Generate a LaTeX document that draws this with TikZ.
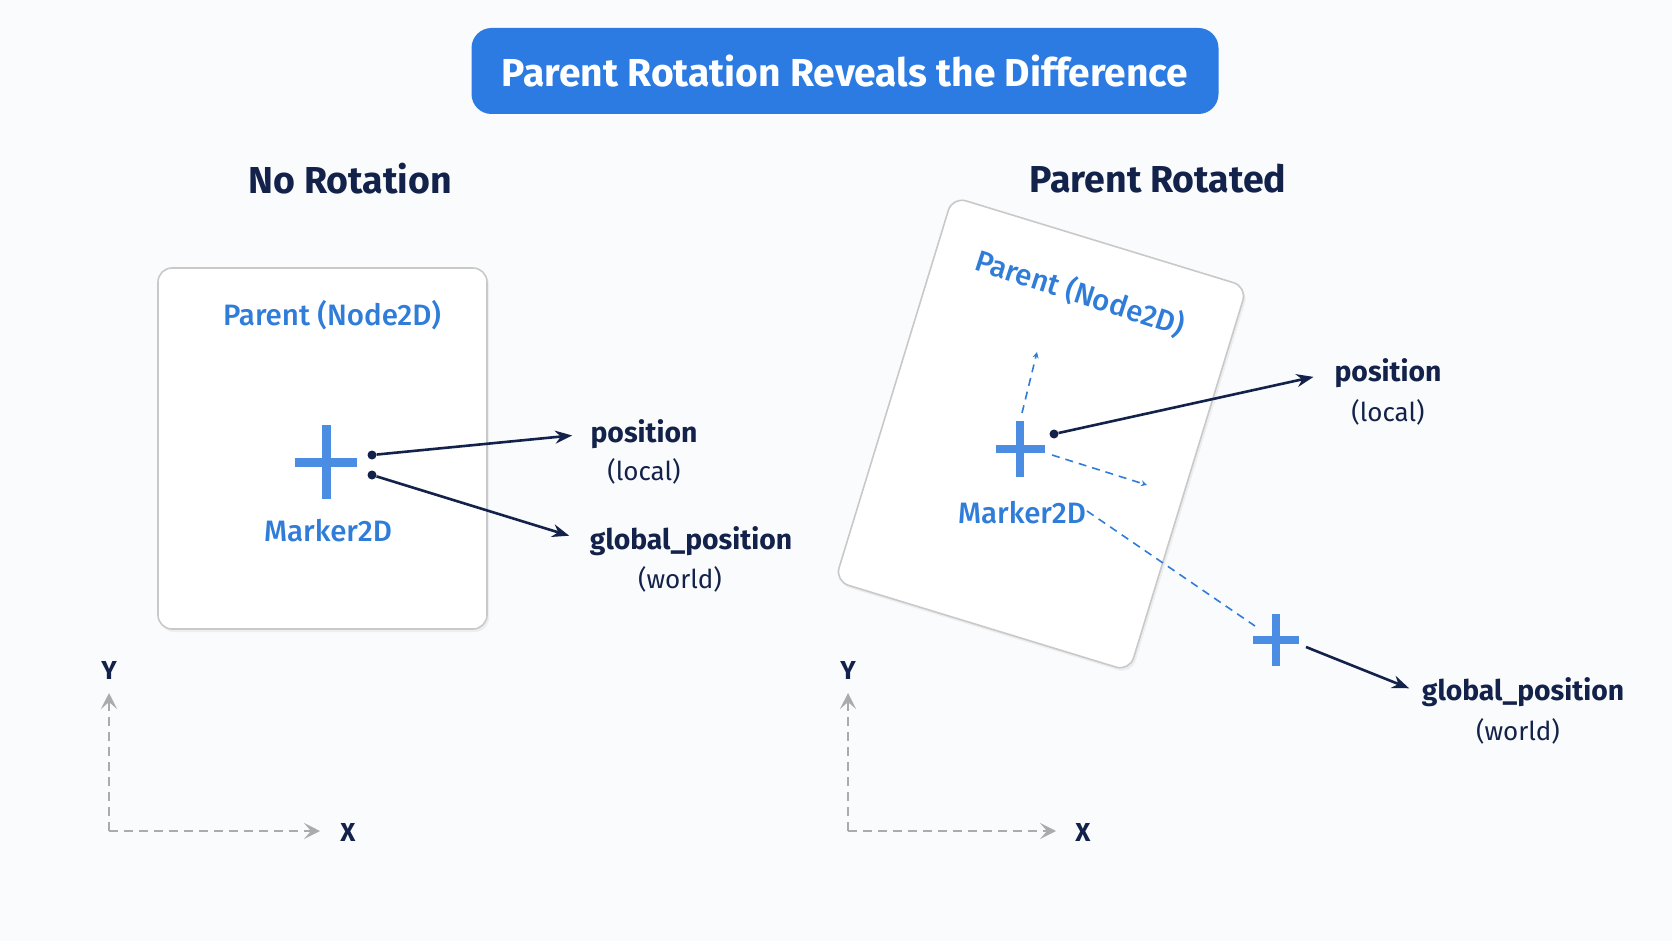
\documentclass[tikz,border=0pt]{standalone}
\usepackage{fontspec}
\setmainfont{Fira Sans}
\newfontfamily\medfont{Fira Sans Medium}
\usetikzlibrary{arrows.meta,shadows}
\definecolor{navy}{HTML}{13224A}
\definecolor{tblue}{HTML}{2B7BE3}
\definecolor{lblue}{HTML}{2F7DD9}
\definecolor{pblue}{HTML}{4A8DE2}
\definecolor{axgray}{HTML}{ABABAB}
\definecolor{bordergray}{HTML}{C9C9C9}
\definecolor{bg}{HTML}{FAFBFC}
\begin{document}
\begin{tikzpicture}[x=1pt,y=-1pt,
  panel/.style={draw=bordergray, line width=1.6pt, fill=white, rounded corners=14pt,
    drop shadow={opacity=0.10, shadow xshift=2pt, shadow yshift=-3pt}},
  titlebox/.style={fill=tblue, rounded corners=20pt, minimum width=747pt, minimum height=86pt,
    text=white, font=\bfseries\fontsize{39}{42}\selectfont},
  heading/.style={text=navy, font=\bfseries\fontsize{37.5}{40}\selectfont},
  blab/.style={text=lblue, font=\medfont\fontsize{29.5}{32}\selectfont},
  nlab/.style={text=navy, font=\bfseries\fontsize{28.3}{32}\selectfont},
  slab/.style={text=navy, font=\fontsize{26}{30}\selectfont},
  axlab/.style={text=navy, font=\bfseries\fontsize{26}{30}\selectfont},
  dot/.style={circle, fill=navy, inner sep=0pt, minimum size=9pt},
  navarrow/.style={draw=navy, line width=2.6pt, -{Stealth[length=17pt,width=13pt]}},
  axis/.style={draw=axgray, line width=2.4pt, dash pattern=on 9pt off 6pt,
    -{Stealth[length=16pt,width=16pt,inset=7pt]}},
  bdash/.style={draw=lblue, line width=1.6pt, dash pattern=on 8pt off 6pt},
  pics/plusmark/.style n args={3}{code={
    \fill[pblue] (-#1,-#3) rectangle (#1,#3);
    \fill[pblue] (-#3,-#2) rectangle (#3,#2);}}
]
\fill[bg] (0,0) rectangle (1672,941);

% title
\node[titlebox] (title) at (845,71) {Parent Rotation Reveals the Difference};

% headings
\node[heading] (h1) at (350,179) {No Rotation};
\node[heading] (h2) at (1158,179) {Parent Rotated};

% ---------- left panel ----------
\node[panel, minimum width=329pt, minimum height=361pt] (box1) at (322.5,448.5) {};
\node[blab] (par1) at (332,315) {Parent (Node2D)};
\pic at (326,462) {plusmark={31}{37}{4.5}};
\node[blab] (mk1) at (328,531) {Marker2D};
\node[dot] (d1) at (372,455) {};
\node[dot] (d2) at (372,475) {};
\node[nlab] (pos1) at (644,434) {position};
\node[slab] (loc1) at (644,471) {(local)};
\node[nlab] (gp1) at (691,541) {global\_position};
\node[slab] (w1) at (680,579) {(world)};
\draw[navarrow, shorten >=15pt] (d1) -- (pos1.west);
\draw[navarrow, shorten >=18pt] (d2) -- (gp1.west);

% left axes
\coordinate (o1) at (109,831);
\coordinate (y1) at (109,693);
\coordinate (x1) at (320,831);
\draw[axis] (o1) -- (y1);
\draw[axis] (o1) -- (x1);
\node[axlab] (Y1) at (109,670) {Y};
\node[axlab] (X1) at (348,832) {X};

% ---------- right panel ----------
\node[panel, minimum width=308pt, minimum height=402pt, rotate=-17] (box2) at (1041,434) {};
\node[blab, rotate=-18] (par2) at (1080,293) {Parent (Node2D)};
\pic at (1020,449) {plusmark={24.5}{28}{3.8}};
\node[blab] (mk2) at (1022,513) {Marker2D};
\node[dot] (d3) at (1054,434) {};
\coordinate (ly0) at (1022,413);
\coordinate (ly1) at (1037,352);
\coordinate (lx0) at (1052,455);
\coordinate (lx1) at (1147,485);
\draw[bdash, -{Stealth[length=6pt,width=6pt]}] (ly0) -- (ly1);
\draw[bdash, -{Stealth[length=6pt,width=6pt]}] (lx0) -- (lx1);
\coordinate (wd0) at (1087,511);
\coordinate (wd1) at (1255,626);
\draw[bdash] (wd0) -- (wd1);
\pic at (1276,640) {plusmark={23}{26}{3.8}};
\coordinate (wp) at (1306,647);
\node[nlab] (pos2) at (1388,373) {position};
\node[slab] (loc2) at (1388,412) {(local)};
\node[nlab] (gp2) at (1523,692) {global\_position};
\node[slab] (w2) at (1518,731) {(world)};
\draw[navarrow, shorten >=18pt] (d3) -- (pos2.west);
\draw[navarrow, shorten >=10pt] (wp) -- (gp2.west);

% right axes
\coordinate (o2) at (848,831);
\coordinate (y2) at (848,693);
\coordinate (x2) at (1056,831);
\draw[axis] (o2) -- (y2);
\draw[axis] (o2) -- (x2);
\node[axlab] (Y2) at (848,670) {Y};
\node[axlab] (X2) at (1083,832) {X};
\end{tikzpicture}
\end{document}
